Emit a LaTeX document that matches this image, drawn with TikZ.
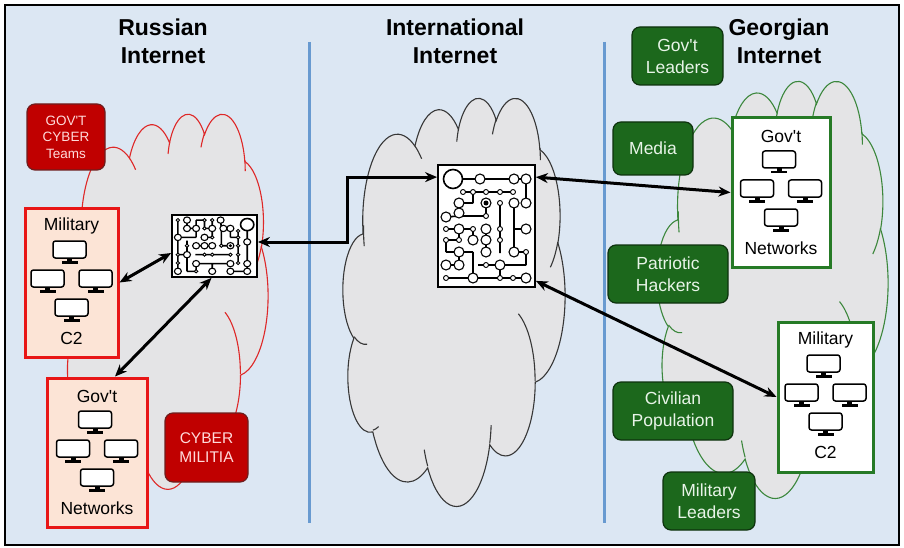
\documentclass[tikz,border=0pt]{standalone}
\usepackage{fontspec}
\newfontfamily\af{Liberation Sans}
\usetikzlibrary{arrows.meta}

\definecolor{bgblue}{RGB}{220,231,243}
\definecolor{sepblue}{RGB}{104,154,208}
\definecolor{cloudgray}{RGB}{228,228,230}
\definecolor{rusred}{RGB}{222,40,40}
\definecolor{boxred}{RGB}{232,22,22}
\definecolor{boxpink}{RGB}{252,228,214}
\definecolor{darkred}{RGB}{192,0,0}
\definecolor{darkredline}{RGB}{110,30,30}
\definecolor{redtext}{RGB}{255,218,218}
\definecolor{geogreen}{RGB}{28,104,28}
\definecolor{geogreenline}{RGB}{14,50,14}
\definecolor{greentext}{RGB}{232,244,232}
\definecolor{cloudgreen}{RGB}{60,135,60}
\definecolor{boxgreen}{RGB}{38,122,38}
\definecolor{cloudline}{RGB}{55,55,55}

\tikzset{
  title/.style={font=\af\bfseries\fontsize{23}{28}\selectfont, align=center, inner sep=0pt},
  lbl/.style={font=\af\fontsize{17.5}{21}\selectfont, inner sep=0pt},
  rubox/.style={draw=darkredline, line width=1.2pt, fill=darkred, rounded corners=8pt,
    text=redtext, align=center, inner sep=0pt},
  gebox/.style={draw=geogreenline, line width=1.2pt, fill=geogreen, rounded corners=8pt,
    text=greentext, align=center, inner sep=0pt, font=\af\fontsize{17.5}{22}\selectfont},
  netred/.style={draw=boxred, line width=3pt, fill=boxpink, inner sep=0pt},
  netgreen/.style={draw=boxgreen, line width=3pt, fill=white, inner sep=0pt},
  board/.style={draw, line width=1.8pt, fill=white, inner sep=0pt},
  conn/.style={line width=3pt, {Stealth[length=12pt,width=10pt]}-{Stealth[length=12pt,width=10pt]}},
  monitor/.pic={
    \draw[line width=1.5pt, fill=white, rounded corners=2.5pt] (-16.5,-11) rectangle (16.5,6);
    \fill[black] (-2.5,6) rectangle (2.5,9);
    \fill[black] (-8,9) rectangle (8,11.5);
  }
}

% cloud outline (office-style cloud), drawn in a 432 x 432 box
\newcommand{\pptcloud}[5]{%
\begin{scope}[shift={(#1,#2)}, xscale=#3/432, yscale=#4/432]
  \filldraw[fill=cloudgray, draw=#5, line width=1.1pt] (39,143.7)
    arc[start angle=-187.75, delta angle=128.12, x radius=67.53, y radius=91.90]
    arc[start angle=-152.03, delta angle=106.57, x radius=53.33, y radius=72.67]
    arc[start angle=-153.49, delta angle=116.15, x radius=43.65, y radius=59.45]
    arc[start angle=-139.71, delta angle=129.50, x radius=48.57, y radius=65.95]
    arc[start angle=-74.77, delta angle=97.98, x radius=53.33, y radius=72.73]
    arc[start angle=-37.54, delta angle=119.40, x radius=67.75, y radius=92.20]
    arc[start angle=0.46, delta angle=121.52, x radius=57.85, y radius=78.67]
    arc[start angle=16.84, delta angle=129.39, x radius=67.52, y radius=92.15]
    arc[start angle=58.98, delta angle=91.22, x radius=77.20, y radius=105.43]
    arc[start angle=83.31, delta angle=139.78, x radius=43.60, y radius=59.18]
    arc[start angle=120.36, delta angle=143.75, x radius=43.45, y radius=59.45]
    -- cycle;
  \draw[#5, line width=1.1pt]
    (46.93,261.77) arc[start angle=85.55, delta angle=34.81, x radius=43.45, y radius=59.45]
    (69.28,348.99) arc[start angle=68.24, delta angle=15.07, x radius=43.60, y radius=59.18]
    (164.78,390.90) arc[start angle=146.23, delta angle=12.25, x radius=67.52, y radius=92.15]
    (288.27,347.51) arc[start angle=4.74, delta angle=12.10, x radius=67.52, y radius=92.15]
    (341.29,229.54) arc[start angle=-64.03, delta angle=64.49, x radius=57.85, y radius=78.67]
    (417.98,153.54) arc[start angle=23.21, delta angle=26.43, x radius=53.33, y radius=72.73]
    (383.24,54.26) arc[start angle=-10.21, delta angle=11.03, x radius=48.57, y radius=65.95]
    (290.78,39.52) arc[start angle=-156.29, delta angle=16.58, x radius=48.57, y radius=65.95]
    (221.41,47.20) arc[start angle=-167.73, delta angle=14.24, x radius=43.65, y radius=59.45]
    (140.00,51.92) arc[start angle=-59.63, delta angle=13.89, x radius=67.53, y radius=91.90]
    (41.27,157.89) arc[start angle=168.61, delta angle=13.71, x radius=67.53, y radius=91.90];
\end{scope}}

\newcommand{\compset}[5]{%
  \node[lbl] (#1t) at (#2,#3+18) {#4};
  \pic at (#2-2,#3+44) {monitor};
  \pic at (#2-24,#3+73) {monitor};
  \pic at (#2+24,#3+73) {monitor};
  \pic at (#2,#3+102) {monitor};
  \node[lbl] (#1b) at (#2,#3+130) {#5};
}

\newcommand{\circuitpattern}{%
  \draw[line width=1.6pt]
    (15,14)--(88,14) (88,14)--(88,38) (25,27)--(75,27) (35,27)--(35,38)
    (21,38)--(35,38) (62,38)--(62,88) (76,38)--(76,87) (76,64)--(88,64)
    (8,52)--(21,51)--(48,51) (48,38)--(48,51) (8,64)--(35,64) (21,64)--(21,75)
    (35,64)--(35,75) (48,64)--(48,87) (8,75)--(21,75) (8,75)--(8,87)
    (8,87)--(35,87) (35,87)--(35,113) (8,100)--(21,100) (21,87)--(21,100)
    (40,100)--(88,100) (76,87)--(88,87)--(88,100) (62,100)--(62,113) (8,113)--(88,113);
  \draw[line width=1.6pt, fill=white] (15,14) circle[radius=9.5pt];
  \foreach \u/\v in {42/14,76/14,88/14,21/38,88/38,76/38,8/52,21/48,88/64,21/64,
      48/64,35/75,48/75,21/87,8/100,21/100,62/100,35/113,88/113,76/87,48/87}
    \draw[line width=1.1pt, fill=white] (\u,\v) circle[radius=5pt];
  \foreach \u/\v in {25/27,35/27,48/27,62/27,75/27,48/51,8/64,35/64,8/75,62/38,
      48/100,8/113,62/113,75/113,88/87,21/75,62/64,62/75}
    \draw[line width=0.9pt, fill=white] (\u,\v) circle[radius=2.5pt];
  \draw[line width=1.1pt, fill=white] (48,38) circle[radius=5pt];
  \fill (48,38) circle[radius=2.5pt];
}

\begin{document}
\begin{tikzpicture}[x=1pt,y=-1pt]
\useasboundingbox (0,0) rectangle (904,548);
\fill[white] (0,0) rectangle (904,548);
\draw[line width=1.5pt, fill=bgblue] (5,5) rectangle (899,545);

% separators
\draw[sepblue, line width=3pt] (309,42) -- (309,523);
\draw[sepblue, line width=3pt] (604,42) -- (604,523);

% titles
\node[title] (trus) at (163,41) {Russian\\Internet};
\node[title] (tint) at (455,41) {International\\Internet};
\node[title] (tgeo) at (779,41) {Georgian\\Internet};

% clouds
\pptcloud{63}{113}{205}{375}{rusred}
\pptcloud{343}{97}{222}{408}{cloudline}
\pptcloud{657}{80}{231}{417}{cloudgreen}

% Russian side
\node[rubox, minimum width=78pt, minimum height=66pt, font=\af\fontsize{13.5}{16.5}\selectfont]
  (teams) at (66,137) {GOV'T\\CYBER\\Teams};
\node[rubox, minimum width=83pt, minimum height=69pt, font=\af\fontsize{15.5}{19}\selectfont]
  (militia) at (206.5,447.5) {CYBER\\MILITIA};
\node[netred, minimum width=93pt, minimum height=149pt] (lmil) at (71.5,282.5) {};
\compset{lmil}{71.5}{208}{Military}{C2}
\node[netred, minimum width=100pt, minimum height=149pt] (lgov) at (97,452.5) {};
\compset{lgov}{97}{378}{Gov't}{Networks}

\node[board, minimum width=85pt, minimum height=62pt] (lrouter) at (214.5,246) {};
\begin{scope}[shift={(257,215)}, rotate=-90, xscale=0.64, yscale=0.70]
  \circuitpattern
\end{scope}

% International
\node[board, minimum width=97pt, minimum height=122pt] (mrouter) at (486.5,226) {};
\begin{scope}[shift={(438,165)}]
  \circuitpattern
\end{scope}

% Georgian side
\node[gebox, minimum width=91pt, minimum height=58pt] (leaders) at (677.5,56) {Gov't\\Leaders};
\node[gebox, minimum width=80pt, minimum height=53pt] (media) at (653,148.5) {Media};
\node[gebox, minimum width=120pt, minimum height=58pt] (hackers) at (668,274) {Patriotic\\Hackers};
\node[gebox, minimum width=120pt, minimum height=58pt] (civil) at (673,411) {Civilian\\Population};
\node[gebox, minimum width=92pt, minimum height=58pt] (mleaders) at (709,501) {Military\\Leaders};
\node[netgreen, minimum width=98pt, minimum height=149pt] (rgov) at (781,192.5) {};
\compset{rgov}{781}{118}{Gov't}{Networks}
\node[netgreen, minimum width=95pt, minimum height=150pt] (rmil) at (825.5,397) {};
\compset{rmil}{825.5}{322}{Military}{C2}

% connectors
\draw[conn] (lmil.east) -- ([yshift=-7pt]lrouter.west);
\draw[conn] ([xshift=18pt]lgov.north) -- ([xshift=-3pt]lrouter.south);
\draw[conn] ([yshift=-13pt]mrouter.north west) -- ++(-90,0) |- ([yshift=4pt]lrouter.east);
\draw[conn] ([yshift=-13pt]mrouter.north east) -- (rgov.west);
\draw[conn] ([yshift=7pt]mrouter.south east) -- (rmil.west);
\end{tikzpicture}
\end{document}
